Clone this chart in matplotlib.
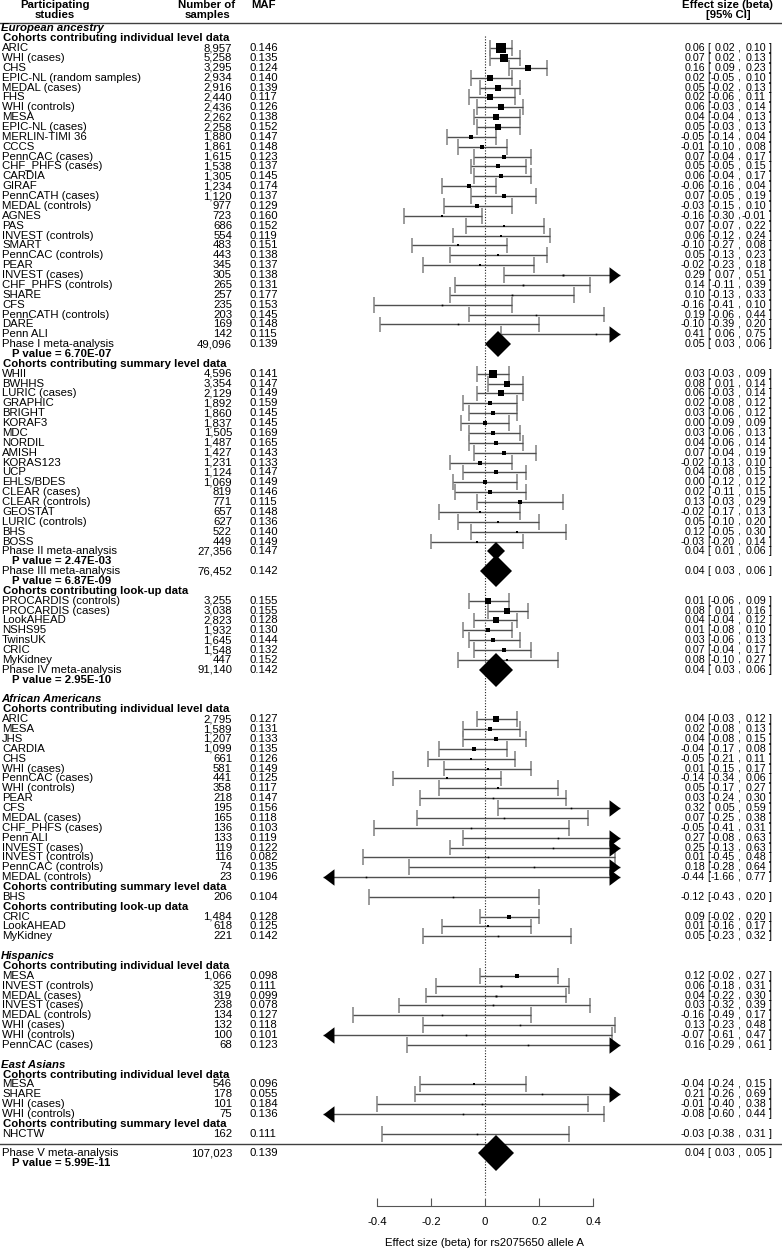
import matplotlib
matplotlib.use("Agg")
import matplotlib.pyplot as plt
import numpy as np
from matplotlib.path import Path

plt.rcParams["font.family"] = ["Liberation Sans", "DejaVu Sans"]
plt.rcParams["axes.unicode_minus"] = False

# --- Data: (study, samples, MAF, beta, CI low, CI high) ---
eur_individual = [
    ("ARIC", 8957, 0.146, 0.06, 0.02, 0.10),
    ("WHI (cases)", 5258, 0.135, 0.07, 0.02, 0.13),
    ("CHS", 3295, 0.124, 0.16, 0.09, 0.23),
    ("EPIC-NL (random samples)", 2934, 0.140, 0.02, -0.05, 0.10),
    ("MEDAL (cases)", 2916, 0.139, 0.05, -0.02, 0.13),
    ("FHS", 2440, 0.117, 0.02, -0.06, 0.11),
    ("WHI (controls)", 2436, 0.126, 0.06, -0.03, 0.14),
    ("MESA", 2262, 0.138, 0.04, -0.04, 0.13),
    ("EPIC-NL (cases)", 2258, 0.152, 0.05, -0.03, 0.13),
    ("MERLIN-TIMI 36", 1880, 0.147, -0.05, -0.14, 0.04),
    ("CCCS", 1861, 0.148, -0.01, -0.10, 0.08),
    ("PennCAC (cases)", 1615, 0.123, 0.07, -0.04, 0.17),
    ("CHF_PHFS (cases)", 1538, 0.137, 0.05, -0.05, 0.15),
    ("CARDIA", 1305, 0.145, 0.06, -0.04, 0.17),
    ("GIRAF", 1234, 0.174, -0.06, -0.16, 0.04),
    ("PennCATH (cases)", 1120, 0.137, 0.07, -0.05, 0.19),
    ("MEDAL (controls)", 977, 0.129, -0.03, -0.15, 0.10),
    ("AGNES", 723, 0.160, -0.16, -0.30, -0.01),
    ("PAS", 686, 0.152, 0.07, -0.07, 0.22),
    ("INVEST (controls)", 554, 0.119, 0.06, -0.12, 0.24),
    ("SMART", 483, 0.151, -0.10, -0.27, 0.08),
    ("PennCAC (controls)", 443, 0.138, 0.05, -0.13, 0.23),
    ("PEAR", 345, 0.137, -0.02, -0.23, 0.18),
    ("INVEST (cases)", 305, 0.138, 0.29, 0.07, 0.51),
    ("CHF_PHFS (controls)", 265, 0.131, 0.14, -0.11, 0.39),
    ("SHARE", 257, 0.177, 0.10, -0.13, 0.33),
    ("CFS", 235, 0.153, -0.16, -0.41, 0.10),
    ("PennCATH (controls)", 203, 0.145, 0.19, -0.06, 0.44),
    ("DARE", 169, 0.148, -0.10, -0.39, 0.20),
    ("Penn ALI", 142, 0.115, 0.41, 0.06, 0.75),
]
eur_summary = [
    ("WHII", 4596, 0.141, 0.03, -0.03, 0.09),
    ("BWHHS", 3354, 0.147, 0.08, 0.01, 0.14),
    ("LURIC (cases)", 2129, 0.149, 0.06, -0.03, 0.14),
    ("GRAPHIC", 1892, 0.159, 0.02, -0.08, 0.12),
    ("BRIGHT", 1860, 0.145, 0.03, -0.06, 0.12),
    ("KORAF3", 1837, 0.145, 0.00, -0.09, 0.09),
    ("MDC", 1505, 0.169, 0.03, -0.06, 0.13),
    ("NORDIL", 1487, 0.165, 0.04, -0.06, 0.14),
    ("AMISH", 1427, 0.143, 0.07, -0.04, 0.19),
    ("KORAS123", 1231, 0.133, -0.02, -0.13, 0.10),
    ("UCP", 1124, 0.147, 0.04, -0.08, 0.15),
    ("EHLS/BDES", 1069, 0.149, 0.00, -0.12, 0.12),
    ("CLEAR (cases)", 819, 0.146, 0.02, -0.11, 0.15),
    ("CLEAR (controls)", 771, 0.115, 0.13, -0.03, 0.29),
    ("GEOSTAT", 657, 0.148, -0.02, -0.17, 0.13),
    ("LURIC (controls)", 627, 0.136, 0.05, -0.10, 0.20),
    ("BHS", 522, 0.140, 0.12, -0.05, 0.30),
    ("BOSS", 449, 0.149, -0.03, -0.20, 0.14),
]
eur_lookup = [
    ("PROCARDIS (controls)", 3255, 0.155, 0.01, -0.06, 0.09),
    ("PROCARDIS (cases)", 3038, 0.155, 0.08, 0.01, 0.16),
    ("LookAHEAD", 2823, 0.128, 0.04, -0.04, 0.12),
    ("NSHS95", 1932, 0.130, 0.01, -0.08, 0.10),
    ("TwinsUK", 1645, 0.144, 0.03, -0.06, 0.13),
    ("CRIC", 1548, 0.132, 0.07, -0.04, 0.17),
    ("MyKidney", 447, 0.152, 0.08, -0.10, 0.27),
]
afr_individual = [
    ("ARIC", 2795, 0.127, 0.04, -0.03, 0.12),
    ("MESA", 1589, 0.131, 0.02, -0.08, 0.13),
    ("JHS", 1207, 0.133, 0.04, -0.08, 0.15),
    ("CARDIA", 1099, 0.135, -0.04, -0.17, 0.08),
    ("CHS", 661, 0.126, -0.05, -0.21, 0.11),
    ("WHI (cases)", 581, 0.149, 0.01, -0.15, 0.17),
    ("PennCAC (cases)", 441, 0.125, -0.14, -0.34, 0.06),
    ("WHI (controls)", 358, 0.117, 0.05, -0.17, 0.27),
    ("PEAR", 218, 0.147, 0.03, -0.24, 0.30),
    ("CFS", 195, 0.156, 0.32, 0.05, 0.59),
    ("MEDAL (cases)", 165, 0.118, 0.07, -0.25, 0.38),
    ("CHF_PHFS (cases)", 136, 0.103, -0.05, -0.41, 0.31),
    ("Penn ALI", 133, 0.119, 0.27, -0.08, 0.63),
    ("INVEST (cases)", 119, 0.122, 0.25, -0.13, 0.63),
    ("INVEST (controls)", 116, 0.082, 0.01, -0.45, 0.48),
    ("PennCAC (controls)", 74, 0.135, 0.18, -0.28, 0.64),
    ("MEDAL (controls)", 23, 0.196, -0.44, -1.66, 0.77),
]
afr_summary = [("BHS", 206, 0.104, -0.12, -0.43, 0.20)]
afr_lookup = [
    ("CRIC", 1484, 0.128, 0.09, -0.02, 0.20),
    ("LookAHEAD", 618, 0.125, 0.01, -0.16, 0.17),
    ("MyKidney", 221, 0.142, 0.05, -0.23, 0.32),
]
his_individual = [
    ("MESA", 1066, 0.098, 0.12, -0.02, 0.27),
    ("INVEST (controls)", 325, 0.111, 0.06, -0.18, 0.31),
    ("MEDAL (cases)", 319, 0.099, 0.04, -0.22, 0.30),
    ("INVEST (cases)", 238, 0.078, 0.03, -0.32, 0.39),
    ("MEDAL (controls)", 134, 0.127, -0.16, -0.49, 0.17),
    ("WHI (cases)", 132, 0.118, 0.13, -0.23, 0.48),
    ("WHI (controls)", 100, 0.101, -0.07, -0.61, 0.47),
    ("PennCAC (cases)", 68, 0.123, 0.16, -0.29, 0.61),
]
eas_individual = [
    ("MESA", 546, 0.096, -0.04, -0.24, 0.15),
    ("SHARE", 178, 0.055, 0.21, -0.26, 0.69),
    ("WHI (cases)", 101, 0.184, -0.01, -0.40, 0.38),
    ("WHI (controls)", 75, 0.136, -0.08, -0.60, 0.44),
]
eas_summary = [("NHCTW", 162, 0.111, -0.03, -0.38, 0.31)]

phase1 = ("Phase I meta-analysis", 49096, 0.139, 0.05, 0.03, 0.06)
phase2 = ("Phase II meta-analysis", 27356, 0.147, 0.04, 0.01, 0.06)
phase3 = ("Phase III meta-analysis", 76452, 0.142, 0.04, 0.03, 0.06)
phase4 = ("Phase IV meta-analysis", 91140, 0.142, 0.04, 0.03, 0.06)
phase5 = ("Phase V meta-analysis", 107023, 0.139, 0.04, 0.03, 0.05)

xticks = [-0.4, -0.2, 0, 0.2, 0.4]
xtick_labels = ["-0.4", "-0.2", "0", "0.2", "0.4"]
xlabel = "Effect size (beta) for rs2075650 allele A"

IND = "Cohorts contributing individual level data"
SUM = "Cohorts contributing summary level data"
LOOK = "Cohorts contributing look-up data"

# --- Row layout (top to bottom) ---
rows = [("group", "European ancestry"), ("sub", IND)]
rows += [("study", r) for r in eur_individual]
rows += [("meta", phase1), ("p", "P value = 6.70E-07"), ("sub", SUM)]
rows += [("study", r) for r in eur_summary]
rows += [("meta", phase2), ("p", "P value = 2.47E-03"),
         ("meta", phase3), ("p", "P value = 6.87E-09"), ("sub", LOOK)]
rows += [("study", r) for r in eur_lookup]
rows += [("meta", phase4), ("p", "P value = 2.95E-10"), ("blank", None),
         ("group", "African Americans"), ("sub", IND)]
rows += [("study", r) for r in afr_individual]
rows += [("sub", SUM)] + [("study", r) for r in afr_summary]
rows += [("sub", LOOK)] + [("study", r) for r in afr_lookup]
rows += [("blank", None), ("group", "Hispanics"), ("sub", IND)]
rows += [("study", r) for r in his_individual]
rows += [("blank", None), ("group", "East Asians"), ("sub", IND)]
rows += [("study", r) for r in eas_individual]
rows += [("sub", SUM)] + [("study", r) for r in eas_summary]
rows += [("line", None), ("meta", phase5), ("p", "P value = 5.99E-11")]

# --- Figure: one axes over the whole canvas, x = beta, y = row number ---
W, H = 782, 1249
fig = plt.figure(figsize=(W / 100, H / 100), dpi=100)
ax = fig.add_axes([0, 0, 1, 1])
ax.patch.set_visible(False)

x0_px, px_per_unit = 485, 270
row0_px, row_px = 28.3, 9.87
ax.set_xlim(-x0_px / px_per_unit, (W - x0_px) / px_per_unit)
ax.set_ylim((H - row0_px) / row_px, -row0_px / row_px)

tr = ax.get_yaxis_transform()   # x in axes fraction, y in rows
def fx(px):
    return px / W

FS = 8.2
FS_CI = 7.7
LEFT_CLIP, RIGHT_CLIP = -0.6, 0.5
line_col, cap_col = "#505050", "#8a8a8a"

right_arrow = Path([(0, 0), (-2, 1.5), (-2, -1.5), (0, 0)],
                   [Path.MOVETO, Path.LINETO, Path.LINETO, Path.CLOSEPOLY])
left_arrow = Path([(0, 0), (2, 1.5), (2, -1.5), (0, 0)],
                  [Path.MOVETO, Path.LINETO, Path.LINETO, Path.CLOSEPOLY])


def number_columns(y, rec):
    name, n, maf, b, lo, hi = rec
    ax.text(fx(2), y, name, transform=tr, fontsize=FS, va="center", ha="left")
    ax.text(fx(232), y, f"{n:,}", transform=tr, fontsize=FS, va="center", ha="right")
    ax.text(fx(250), y, f"{maf:.3f}", transform=tr, fontsize=FS, va="center", ha="left")
    # effect size [95% CI], aligned piece by piece
    ax.text(fx(705), y, f"{b:.2f}", transform=tr, fontsize=FS_CI, va="center", ha="right")
    ax.text(fx(707), y, "[", transform=tr, fontsize=FS_CI, va="center", ha="left")
    ax.text(fx(735), y, f"{lo:.2f}", transform=tr, fontsize=FS_CI, va="center", ha="right")
    ax.text(fx(738), y, ",", transform=tr, fontsize=FS_CI, va="center", ha="center")
    ax.text(fx(766), y, f"{hi:.2f}", transform=tr, fontsize=FS_CI, va="center", ha="right")
    ax.text(fx(769), y, "]", transform=tr, fontsize=FS_CI, va="center", ha="left")


for y, (kind, item) in enumerate(rows):
    if kind == "group":
        ax.text(fx(1), y, item, transform=tr, fontsize=FS, va="center",
                ha="left", fontweight="bold", fontstyle="italic")
    elif kind == "sub":
        ax.text(fx(3), y, item, transform=tr, fontsize=FS, va="center",
                ha="left", fontweight="bold")
    elif kind == "p":
        ax.text(fx(12), y, item, transform=tr, fontsize=FS, va="center",
                ha="left", fontweight="bold")
    elif kind == "line":
        ax.axhline(y, color="#404040", lw=1)
    elif kind == "meta":
        number_columns(y, item)
        n, b = item[1], item[3]
        width_px = 0.113 * np.sqrt(n)
        ax.plot([b], [y], marker="D", ms=width_px / np.sqrt(2) * 0.72,
                color="black", mew=0, ls="none", zorder=4)
    elif kind == "study":
        number_columns(y, item)
        name, n, maf, b, lo, hi = item
        lo_c, hi_c = max(lo, LEFT_CLIP), min(hi, RIGHT_CLIP)
        ax.hlines(y, lo_c, hi_c, color=line_col, lw=1, zorder=2)
        if lo > LEFT_CLIP:
            ax.vlines(lo, y - 0.8, y + 0.8, color=cap_col, lw=1.2, zorder=1)
        else:
            ax.plot([LEFT_CLIP], [y], marker=left_arrow, ms=15.8,
                    color="black", mew=0, ls="none", zorder=3)
        if hi < RIGHT_CLIP:
            ax.vlines(hi, y - 0.8, y + 0.8, color=cap_col, lw=1.2, zorder=1)
        else:
            ax.plot([RIGHT_CLIP], [y], marker=right_arrow, ms=15.8,
                    color="black", mew=0, ls="none", zorder=3)
        side_px = max(0.11 * np.sqrt(n), 1.6)
        ax.plot([b], [y], marker="s", ms=side_px * 0.72, color="black",
                mew=0, ls="none", zorder=4)

# --- Headers ---
def row_of(px):
    return (px - row0_px) / row_px

ax.text(fx(55), row_of(10), "Participating\nstudies", transform=tr, fontsize=FS,
        fontweight="bold", ha="center", va="center", linespacing=0.95)
ax.text(fx(207), row_of(10), "Number of\nsamples", transform=tr, fontsize=FS,
        fontweight="bold", ha="center", va="center", linespacing=0.95)
ax.text(fx(251), row_of(5), "MAF", transform=tr, fontsize=FS,
        fontweight="bold", ha="left", va="center")
ax.text(fx(728), row_of(10), "Effect size (beta)\n[95% CI]", transform=tr,
        fontsize=FS, fontweight="bold", ha="center", va="center", linespacing=0.95)
ax.axhline(row_of(23.5), color="#404040", lw=1)

# --- Zero line ---
ax.vlines(0, row_of(36), row_of(1195), color="#222222", lw=0.8,
          linestyles=(0, (1, 1.5)), zorder=1)

# --- Bottom axis ---
for side in ["left", "right", "top"]:
    ax.spines[side].set_visible(False)
ax.spines["bottom"].set_position(("data", row_of(1206)))
ax.spines["bottom"].set_bounds(xticks[0], xticks[-1])
ax.spines["bottom"].set_color("#555555")
ax.set_xticks(xticks)
ax.set_xticklabels(xtick_labels)
ax.tick_params(axis="x", direction="in", length=6, pad=8, color="#555555",
               labelsize=FS)
ax.set_yticks([])
ax.text(0, row_of(1243), xlabel, fontsize=FS, ha="center", va="center")

fig.savefig("out.png", dpi=100)
